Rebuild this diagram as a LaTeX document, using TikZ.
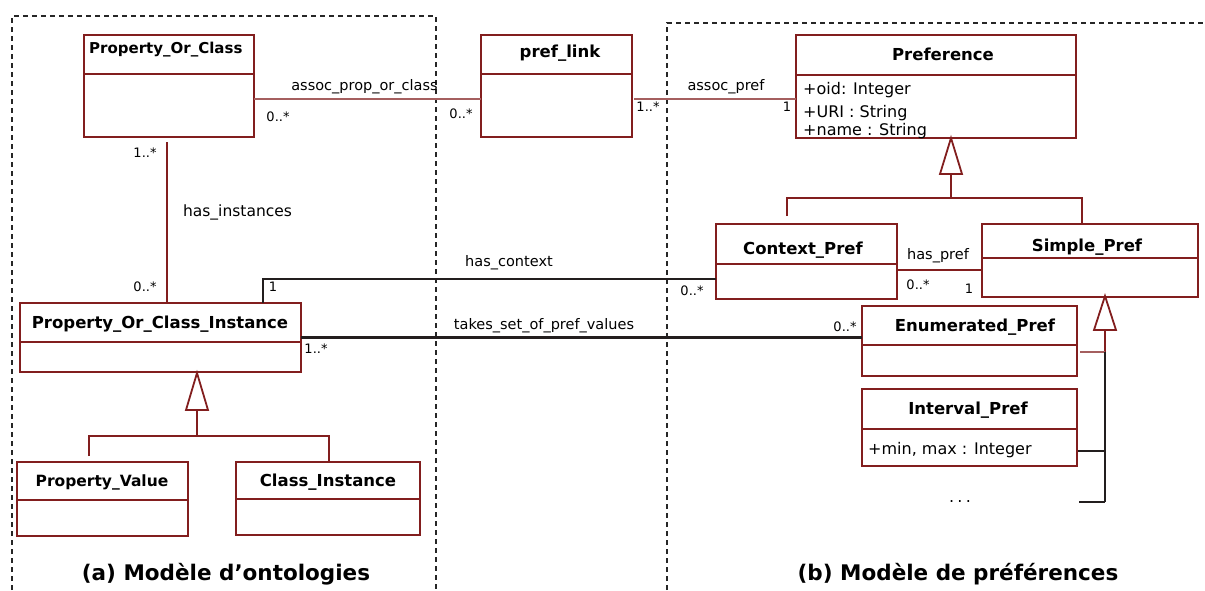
\documentclass[tikz,border=0pt]{standalone}
\usepackage{fontspec}
\setmainfont{DejaVu Sans}
\usetikzlibrary{calc}
\definecolor{umlred}{RGB}{130,30,30}
\definecolor{assocred}{RGB}{165,95,95}
\definecolor{linedark}{RGB}{35,30,30}
\newcommand{\umlbox}[6]{%
  \node[clsbox, anchor=north west, minimum width={(#4)-(#2)}, minimum height={(#5)-(#3)}] (#1) at (#2,#3) {};
  \draw[clsline] ([yshift={-((#6)-(#3))}]#1.north west) -- ([yshift={-((#6)-(#3))}]#1.north east);
}
\begin{document}
\begin{tikzpicture}[x=1pt,y=-1pt,
  clsbox/.style={draw=umlred, line width=1.8pt, inner sep=0pt, outer sep=0pt, fill=white},
  clsline/.style={draw=umlred, line width=1.5pt},
  ttl/.style={font=\fontsize{16.5}{19}\selectfont\bfseries, inner sep=0pt, anchor=base},
  attr/.style={font=\fontsize{16}{18}\selectfont, inner sep=0pt, anchor=base west},
  lbl/.style={font=\fontsize{14.5}{17}\selectfont, inner sep=0pt, anchor=base},
  mult/.style={font=\fontsize{13}{15}\selectfont, inner sep=0pt, anchor=base},
  captn/.style={font=\fontsize{21.5}{24}\selectfont\bfseries, inner sep=0pt, anchor=base},
  assocln/.style={draw=assocred, line width=2pt},
  instln/.style={draw=umlred, line width=2.6pt},
  darkln/.style={draw=linedark, line width=1.8pt},
  blackln/.style={draw=linedark, line width=2.4pt},
  genln/.style={draw=umlred, line width=1.8pt},
  pkgframe/.style={draw=black!85, line width=1.3pt, dash pattern=on 5pt off 4pt}
]
\useasboundingbox (0,0) rectangle (1205,590);

% package frames
\draw[pkgframe] (12,590) -- (12,16) -- (436,16) -- (436,590);
\draw[pkgframe] (667,590) -- (667,23) -- (1205,23);

% classes
\umlbox{poc}{84}{35}{254}{137}{74}
\umlbox{plink}{481}{35}{632}{137}{74}
\umlbox{pref}{796}{35}{1076}{138}{75}
\umlbox{poci}{20}{303}{301}{372}{342}
\umlbox{pv}{17}{462}{188}{536}{500}
\umlbox{ci}{236}{462}{420}{535}{499}
\umlbox{cp}{716}{224}{897}{299}{264}
\umlbox{sp}{982}{224}{1198}{297}{258}
\umlbox{ep}{862}{306}{1077}{376}{345}
\umlbox{ip}{862}{389}{1077}{466}{429}

% titles
\node[ttl, font=\fontsize{15}{18}\selectfont\bfseries, anchor=base west] (poct) at (89,53) {Property\_Or\_Class};
\node[ttl] (plinkt) at (560,57) {pref\_link};
\node[ttl] (preft) at (943,60) {Preference};
\node[ttl] (pocit) at (160,328) {Property\_Or\_Class\_Instance};
\node[ttl, font=\fontsize{15.5}{18}\selectfont\bfseries] (pvt) at (102,486) {Property\_Value};
\node[ttl] (cit) at (328,486) {Class\_Instance};
\node[ttl] (cpt) at (803,254) {Context\_Pref};
\node[ttl] (spt) at (1087,251) {Simple\_Pref};
\node[ttl] (ept) at (975,331) {Enumerated\_Pref};
\node[ttl] (ipt) at (968,414) {Interval\_Pref};

% attributes
\node[attr] (pa1) at (803,94) {+oid: Integer};
\node[attr] (pa2) at (803,117) {+URI : String};
\node[attr] (pa3) at (803,135) {+name : String};
\node[attr] (ia1) at (868,454) {+min, max : Integer};

% associations
\coordinate (a1) at ([yshift=-13pt]poc.east);
\draw[assocln] (a1) -- (a1 -| plink.west);
\coordinate (a2) at ([yshift=-13pt]plink.east);
\draw[assocln] ([xshift=2pt]a2) -- (a2 -| pref.west);
\coordinate (hi) at ([xshift=-2pt,yshift=-5pt]poc.south);
\draw[instln] (hi) -- (hi |- poci.north);
\coordinate (hc) at ([xshift=-38pt]poci.north east);
\coordinate (hcE) at ([yshift=-17.5pt]cp.west);
\draw[darkln] (hc) |- (hcE);
\draw[blackln] (poci.east) -- (poci.east -| ep.west);
\coordinate (hp) at ([yshift=-8.5pt]cp.east);
\draw[instln] (hp) -- (hp -| sp.west);

% generalization to Preference
\coordinate (g1) at ($(pref.south)+(15,0)$);
\draw[genln, fill=white] (g1) -- ++(-11,36) -- ++(22,0) -- cycle;
\coordinate (g1b) at ($(g1)+(0,36)$);
\coordinate (g1j) at ($(g1)+(0,60)$);
\coordinate (g1l) at ($(cp.north)+(-19.5,-8)$);
\coordinate (g1r) at ($(sp.north)+(-8,0)$);
\draw[genln] (g1b) -- (g1j);
\draw[genln] (g1l) |- (g1j) -| (g1r);

% generalization to Simple_Pref
\coordinate (g2) at ($(sp.south)+(15,-1)$);
\draw[genln, fill=white] (g2) -- ++(-11,34) -- ++(22,0) -- cycle;
\coordinate (g2b) at ($(g2)+(0,34)$);
\coordinate (g2j) at ($(g2)+(0,56)$);
\draw[genln] (g2b) -- (g2j);
\coordinate (epc) at ($(ep.east)+(3,11)$);
\draw[assocln] (epc) -- (g2j);
\coordinate (ipc) at ($(ip.east)+(1,23.5)$);
\node[font=\fontsize{16}{18}\selectfont, inner sep=0pt, anchor=base] (dots) at (960,502) {.\hspace{3.2pt}.\hspace{3.2pt}.};
\coordinate (dotc) at (1079,502);
\coordinate (g2e) at (dotc -| g2j);
\draw[blackln] (g2j) -- (g2e);
\draw[blackln] (ipc) -- (ipc -| g2j);
\draw[blackln] (dotc) -- (g2e);

% generalization to Property_Or_Class_Instance
\coordinate (g3) at ($(poci.south)+(36.5,1)$);
\draw[genln, fill=white] (g3) -- ++(-11,37) -- ++(22,0) -- cycle;
\coordinate (g3b) at ($(g3)+(0,37)$);
\coordinate (g3j) at ($(g3)+(0,63)$);
\coordinate (g3l) at ($(pv.north)+(-13.5,-6)$);
\coordinate (g3r) at ($(ci.north)+(1,0)$);
\draw[genln] (g3b) -- (g3j);
\draw[genln] (g3l) |- (g3j) -| (g3r);

% association labels
\node[lbl] (l1) at (364.5,90) {assoc\_prop\_or\_class};
\node[lbl] (l2) at (726,90) {assoc\_pref};
\node[lbl, font=\fontsize{15.5}{18}\selectfont] (l3) at (237.5,216) {has\_instances};
\node[lbl] (l4) at (509,266) {has\_context};
\node[lbl] (l5) at (544,329) {takes\_set\_of\_pref\_values};
\node[lbl] (l6) at (938,259) {has\_pref};

% multiplicities
\node[mult] (m1) at (278,121) {0..*};
\node[mult] (m2) at (461,118) {0..*};
\node[mult] (m3) at (648,111) {1..*};
\node[mult] (m4) at (787,111) {1};
\node[mult] (m5) at (145,157) {1..*};
\node[mult] (m6) at (145,291) {0..*};
\node[mult] (m7) at (273,291) {1};
\node[mult] (m8) at (692,295) {0..*};
\node[mult] (m9) at (316,353) {1..*};
\node[mult] (m10) at (845,331) {0..*};
\node[mult] (m11) at (918,289) {0..*};
\node[mult] (m12) at (969,293) {1};

% captions
\node[captn] (capa) at (226,580) {(a) Modèle d’ontologies};
\node[captn] (capb) at (958,580) {(b) Modèle de préférences};
\end{tikzpicture}
\end{document}
